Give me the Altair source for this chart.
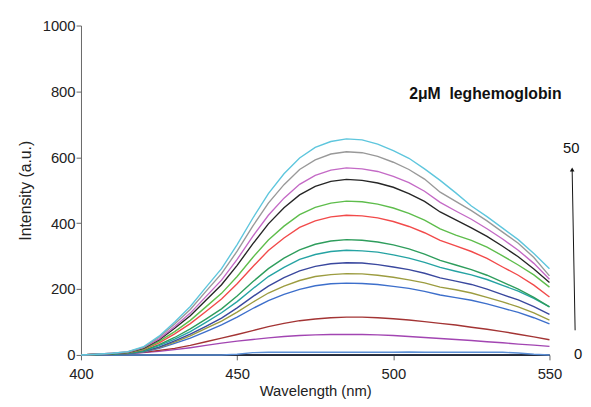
import altair as alt
import pandas as pd

wavelengths = list(range(400, 551, 5))

series_names = ["s01", "s02", "s03", "s04", "s05", "s06", "s07", "s08",
                "s09", "s10", "s11", "s12", "s13", "s14", "s15", "s16"]
series_colors = ["#1F3C8C", "#222222", "#5B8FD6", "#A245B2", "#A33434",
                 "#3D6FCB", "#9C9C40", "#3A489E", "#25A3A3", "#2E9D5C",
                 "#F24A4A", "#5EBD4C", "#262626", "#C46AC6", "#999999", "#5EC6DD"]

s01 = [0] * 31
s02 = [0] * 31
s03 = [0, 0, 0, 0, 0, 0, 0, 0, 0, 0, 2, 7, 8, 8, 8, 8, 8, 8, 8, 8, 8, 9, 8, 8, 8, 8, 8, 8, 6, 2, 0]
s04 = [0, 1, 2, 4, 7, 11, 16, 22, 29, 36, 42, 47, 52, 56, 59, 61, 62, 62,
       62, 61, 59, 56, 53, 50, 47, 44, 40, 37, 33, 30, 26]
s05 = [0, 2, 4, 6, 8, 14, 20, 29, 40, 51, 62, 74, 86, 96, 104, 109, 113, 115,
       115, 113, 110, 106, 101, 96, 91, 84, 78, 71, 63, 55, 46]
s06 = [0, 1, 2, 4, 9, 20, 35, 51, 71, 91, 115, 141, 165, 184, 199, 210, 216, 218,
       217, 214, 208, 202, 193, 182, 174, 166, 155, 142, 129, 113, 94]
s07 = [0, 1, 2, 4, 10, 22, 39, 58, 81, 103, 130, 160, 188, 209, 226, 238, 244, 247,
       246, 242, 236, 228, 219, 206, 198, 188, 175, 161, 146, 128, 106]
s08 = [0, 1, 2, 4, 11, 24, 43, 63, 87, 112, 143, 177, 209, 235, 255, 269, 277, 280,
       279, 274, 267, 259, 248, 234, 224, 214, 200, 183, 167, 147, 123]
s09 = [0, 1, 3, 5, 12, 28, 48, 71, 99, 128, 162, 201, 238, 266, 290, 305, 314, 318,
       316, 312, 304, 294, 281, 266, 254, 243, 229, 211, 194, 172, 146]
s10 = [0, 1, 3, 6, 13, 31, 53, 79, 109, 140, 179, 222, 262, 294, 319, 336, 346, 350,
       348, 343, 334, 322, 306, 287, 273, 259, 242, 221, 200, 175, 146]
s11 = [0, 2, 4, 7, 16, 37, 64, 95, 132, 170, 216, 268, 317, 355, 387, 407, 419, 424,
       422, 416, 405, 390, 371, 348, 331, 314, 293, 267, 242, 212, 176]
s12 = [0, 2, 4, 8, 18, 41, 71, 105, 146, 187, 238, 296, 349, 391, 426, 448, 461, 467,
       465, 458, 446, 430, 409, 383, 364, 348, 327, 301, 273, 243, 206]
s13 = [0, 2, 4, 8, 20, 46, 81, 119, 166, 213, 272, 337, 398, 447, 486, 512, 527, 533,
       530, 522, 509, 490, 466, 434, 410, 386, 360, 330, 298, 261, 220]
s14 = [0, 2, 5, 9, 22, 49, 86, 127, 177, 227, 290, 360, 424, 476, 518, 545, 561, 568,
       565, 557, 542, 523, 497, 463, 437, 412, 383, 352, 318, 278, 230]
s15 = [0, 2, 5, 9, 23, 54, 94, 138, 193, 247, 315, 391, 461, 517, 563, 592, 610, 617,
       614, 603, 585, 563, 534, 494, 466, 438, 407, 373, 339, 296, 240]
s16 = [0, 2, 5, 10, 25, 57, 100, 147, 205, 262, 335, 415, 490, 550, 598, 630, 648, 656,
       653, 640, 620, 597, 565, 530, 492, 452, 420, 385, 350, 308, 262]

all_series = [s01, s02, s03, s04, s05, s06, s07, s08,
              s09, s10, s11, s12, s13, s14, s15, s16]

x_ticks = [400, 450, 500, 550]
y_ticks = [0, 200, 400, 600, 800, 1000]
annotation_title = "2\u03bcM\u00a0 leghemoglobin"
arrow_top_label = "50"
arrow_bottom_label = "0"

rows = []
for idx, (name, vals) in enumerate(zip(series_names, all_series)):
    for w, v in zip(wavelengths, vals):
        rows.append({"wavelength": w, "intensity": v, "series": name, "order": idx})
df = pd.DataFrame(rows)

FONT = "'Liberation Sans', Arial, sans-serif"

lines = alt.Chart(df).mark_line(strokeWidth=1.4).encode(
    x=alt.X("wavelength:Q",
            scale=alt.Scale(domain=[400, 550], nice=False, zero=False),
            axis=alt.Axis(values=x_ticks, title="Wavelength (nm)", grid=False,
                          tickSize=5, labelPadding=7, titlePadding=2,
                          labelFlush=False,
                          labelFontSize=15, titleFontSize=15,
                          format="d")),
    y=alt.Y("intensity:Q",
            scale=alt.Scale(domain=[0, 1000], nice=False),
            axis=alt.Axis(values=y_ticks, title="Intensity (a.u.)", grid=False,
                          tickSize=5, labelPadding=1, titlePadding=9,
                          labelFlush=False,
                          labelFontSize=15, titleFontSize=16,
                          format="d")),
    color=alt.Color("series:N",
                    scale=alt.Scale(domain=series_names, range=series_colors),
                    legend=None),
    order=alt.Order("order:Q"),
)

one = pd.DataFrame({"k": [0]})

title_text = alt.Chart(one).mark_text(
    font=FONT, fontSize=16, fontWeight="bold", color="#111111",
    align="center", baseline="middle"
).encode(x=alt.value(410), y=alt.value(69), text=alt.value(annotation_title))

top_label = alt.Chart(one).mark_text(
    font=FONT, fontSize=15, color="#111111", align="center", baseline="middle"
).encode(x=alt.value(497), y=alt.value(124), text=alt.value(arrow_top_label))

bottom_label = alt.Chart(one).mark_text(
    font=FONT, fontSize=15, color="#111111", align="left", baseline="middle"
).encode(x=alt.value(500), y=alt.value(333), text=alt.value(arrow_bottom_label))

arrow_line = alt.Chart(one).mark_rule(color="#111111", strokeWidth=1).encode(
    x=alt.value(501), y=alt.value(309), x2=alt.value(498), y2=alt.value(146))

arrow_head = alt.Chart(one).mark_point(
    shape="triangle-up", filled=True, size=22, color="#111111", opacity=1
).encode(x=alt.value(498), y=alt.value(146))

chart = alt.layer(lines, title_text, top_label, bottom_label, arrow_line, arrow_head).properties(
    width=475, height=334,
    autosize=alt.AutoSizeParams(type="none"),
    padding={"left": 74, "top": 15, "right": 34, "bottom": 50},
).configure_view(stroke=None).configure_axis(
    labelFont=FONT, titleFont=FONT,
    titleFontWeight="normal", labelColor="#222222", titleColor="#222222",
    domainColor="#666666", tickColor="#666666",
)

chart.save("out.html", embed_options={"renderer": "svg", "actions": False})
